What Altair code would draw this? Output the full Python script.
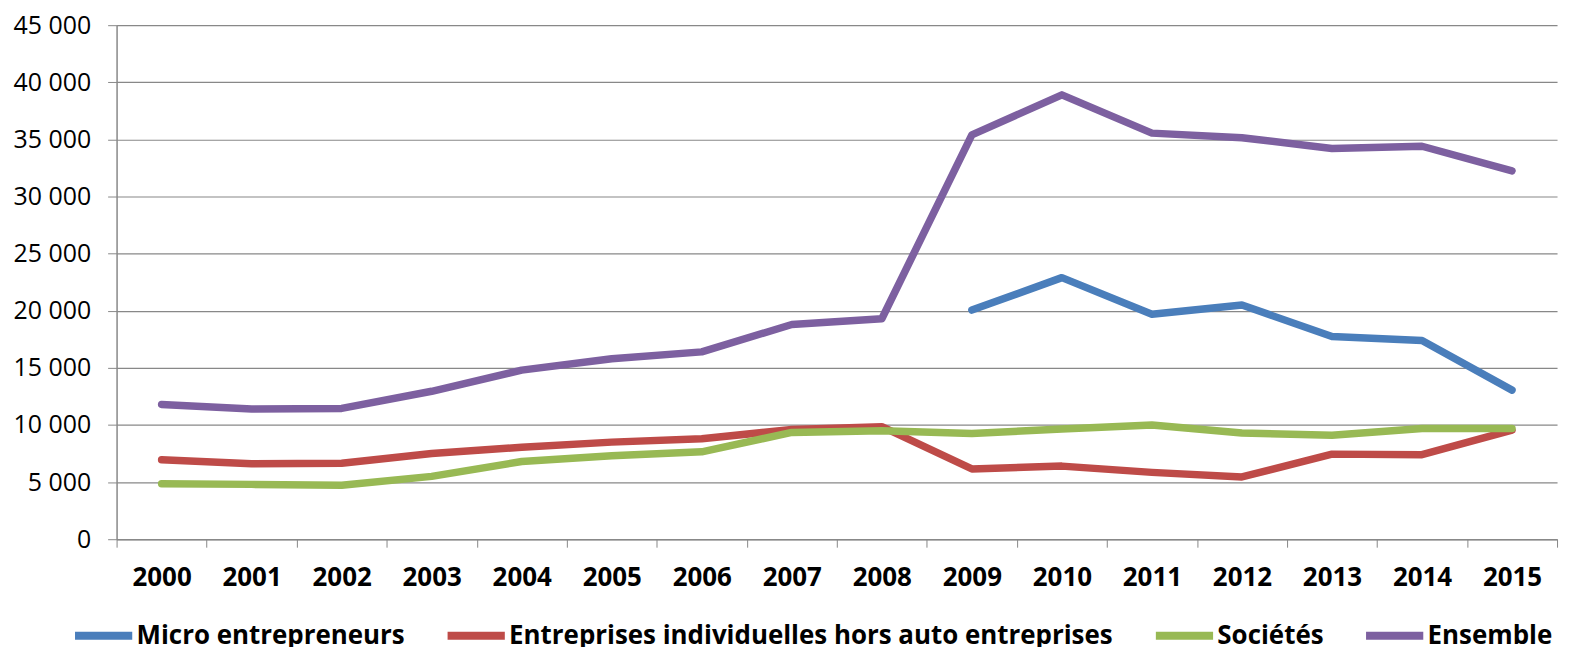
import altair as alt
import pandas as pd

years = [str(y) for y in range(2000, 2016)]
series_names = [
    "Micro entrepreneurs",
    "Entreprises individuelles hors auto entreprises",
    "Sociétés",
    "Ensemble",
]
micro = [None] * 9 + [20060, 22900, 19700, 20500, 17750, 17400, 13050]
ei = [6950, 6600, 6650, 7500, 8050, 8500, 8800, 9600, 9850, 6150, 6400, 5850, 5450, 7450, 7400, 9550]
soc = [4850, 4800, 4720, 5500, 6800, 7300, 7650, 9350, 9500, 9250, 9650, 10000, 9300, 9100, 9700, 9700]
ens = [11800, 11400, 11450, 12950, 14800, 15800, 16400, 18800, 19300, 35400, 38900, 35550, 35150, 34200, 34400, 32250]
colors = ["#4A7EBB", "#BE4B48", "#98B954", "#7D60A0"]
y_ticks = list(range(0, 45001, 5000))

rows = []
for name, vals in zip(series_names, [micro, ei, soc, ens]):
    for yr, v in zip(years, vals):
        if v is not None:
            rows.append({"year": yr, "value": v, "serie": name})
df = pd.DataFrame(rows)

grey = "#888888"
font = "Open Sans"

chart = (
    alt.Chart(df)
    .mark_line(strokeWidth=7.5, strokeCap="round", strokeJoin="round")
    .encode(
        x=alt.X(
            "year:O",
            sort=years,
            scale=alt.Scale(type="band", paddingInner=0, paddingOuter=0, domain=years),
            axis=alt.Axis(
                title=None,
                tickBand="extent",
                labelAngle=0,
                labelFont=font,
                labelFontSize=26,
                labelFontWeight="bold",
                labelColor="#000000",
                labelPadding=17,
                tickSize=8,
                tickColor=grey,
                domainColor=grey,
                domainWidth=1.5,
                grid=False,
            ),
        ),
        y=alt.Y(
            "value:Q",
            scale=alt.Scale(domain=[0, 45000], nice=False),
            axis=alt.Axis(
                title=None,
                values=y_ticks,
                labelExpr="replace(format(datum.value, ',d'), ',', ' ')",
                labelFont=font,
                labelFontSize=25,
                labelColor="#000000",
                labelPadding=17,
                tickSize=9,
                tickColor=grey,
                domainColor=grey,
                domainWidth=1.5,
                grid=True,
                gridColor=grey,
                gridWidth=1.2,
            ),
        ),
        color=alt.Color(
            "serie:N",
            scale=alt.Scale(domain=series_names, range=colors),
            legend=alt.Legend(
                title=None,
                orient="none",
                legendX=-46,
                legendY=580,
                direction="horizontal",
                symbolType="stroke",
                symbolSize=3300,
                symbolStrokeWidth=8,
                labelFont=font,
                labelFontSize=26,
                labelFontWeight="bold",
                labelColor="#000000",
                labelLimit=1000,
                labelOffset=0,
                columnPadding=26,
                padding=0,
            ),
        ),
        detail="serie:N",
    )
    .properties(
        width=1446,
        height=516,
        autosize=alt.AutoSizeParams(type="none"),
        padding={"left": 109, "top": 16, "right": 10, "bottom": 120},
    )
    .configure_view(strokeWidth=0)
)

chart.save("out.html", embed_options={"renderer": "svg", "actions": False})
